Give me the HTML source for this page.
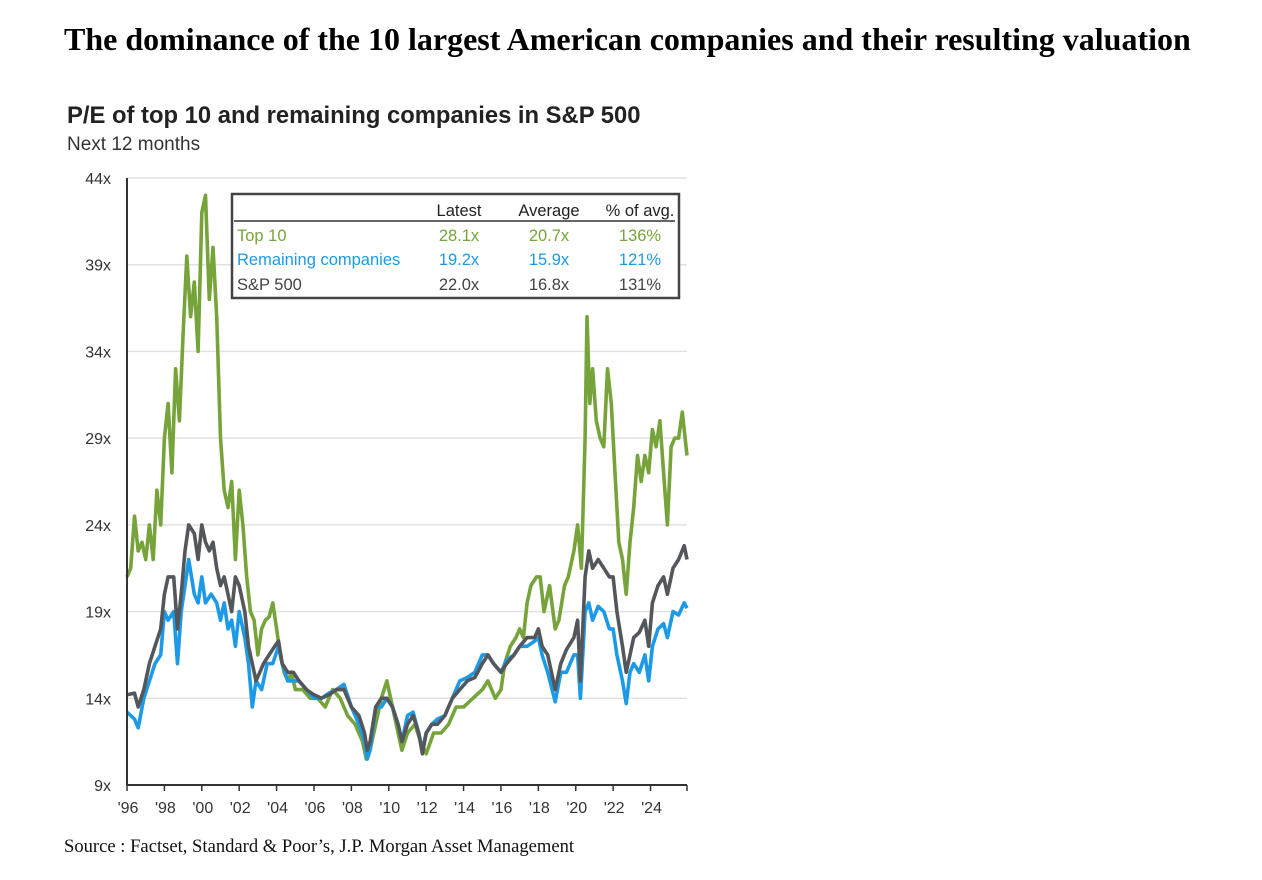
<!DOCTYPE html>
<html><head><meta charset="utf-8">
<style>
body{margin:0;background:#fff;width:1262px;height:880px;overflow:hidden;position:relative}
.t{position:absolute;white-space:nowrap}
</style></head>
<body>
<div class="t" style="left:64px;top:21px;font:bold 32px 'Liberation Serif',serif;color:#000">The dominance of the 10 largest American companies and their resulting valuation</div>
<div class="t" style="left:67px;top:102px;font:bold 23.8px 'Liberation Sans',sans-serif;color:#222">P/E of top 10 and remaining companies in S&amp;P 500</div>
<div class="t" style="left:67px;top:134px;font:19px 'Liberation Sans',sans-serif;color:#333">Next 12 months</div>
<div class="t" style="left:64px;top:836px;font:18.6px 'Liberation Serif',serif;color:#111">Source : Factset, Standard &amp; Poor’s, J.P. Morgan Asset Management</div>
<svg id="chart" width="1262" height="880" style="position:absolute;left:0;top:0"></svg>
<script>
const yTicks=[9,14,19,24,29,34,39,44];
const xTickYears=[1996,1998,2000,2002,2004,2006,2008,2010,2012,2014,2016,2018,2020,2022,2024];
const xTickLabels=["'96","'98","'00","'02","'04","'06","'08","'10","'12","'14","'16","'18","'20","'22","'24"];
const top10Years=[1996.0,1996.2,1996.4,1996.6,1996.8,1997.0,1997.2,1997.4,1997.6,1997.8,1998.0,1998.2,1998.4,1998.6,1998.8,1999.0,1999.2,1999.4,1999.6,1999.8,2000.0,2000.2,2000.4,2000.6,2000.8,2001.0,2001.2,2001.4,2001.6,2001.8,2002.0,2002.2,2002.4,2002.6,2002.8,2003.0,2003.2,2003.4,2003.6,2003.8,2004.0,2004.2,2004.4,2004.6,2004.8,2005.0,2005.4,2005.8,2006.2,2006.6,2007.0,2007.4,2007.8,2008.2,2008.6,2008.8,2009.0,2009.2,2009.6,2009.9,2010.2,2010.5,2010.7,2011.0,2011.4,2011.7,2012.0,2012.4,2012.8,2013.2,2013.6,2014.0,2014.5,2015.0,2015.3,2015.7,2016.0,2016.2,2016.5,2016.8,2017.0,2017.2,2017.4,2017.6,2017.9,2018.1,2018.3,2018.6,2018.9,2019.1,2019.4,2019.6,2019.9,2020.1,2020.3,2020.5,2020.6,2020.75,2020.9,2021.1,2021.3,2021.5,2021.7,2021.9,2022.1,2022.3,2022.5,2022.7,2022.9,2023.1,2023.3,2023.5,2023.7,2023.9,2024.1,2024.3,2024.5,2024.7,2024.9,2025.1,2025.3,2025.5,2025.7,2025.95];
const top10Values=[21,21.5,24.5,22.5,23,22,24,22,26,24,29,31,27,33,30,35,39.5,36,38,34,42,43,37,40,36,29,26,25,26.5,22,26,24,21,19,18.5,16.5,18,18.5,18.7,19.5,18,16.5,15.5,15,15.5,14.5,14.5,14,14,13.5,14.5,14,13,12.5,11.5,10.5,11,12,14,15,13.5,12,11,12,12.5,11.5,10.8,12,12,12.5,13.5,13.5,14,14.5,15,14,14.5,16,17,17.5,18,17.5,19.5,20.5,21,21,19,20.5,18,18.5,20.5,21,22.5,24,21.5,29,36,31,33,30,29,28.5,33,31,27,23,22,20,23,25,28,26.5,28,27,29.5,28.5,30,27,24,28.5,29,29,30.5,28];
const spYears=[1996.0,1996.4,1996.6,1996.9,1997.2,1997.5,1997.8,1998.0,1998.2,1998.5,1998.7,1998.9,1999.1,1999.3,1999.6,1999.8,2000.0,2000.2,2000.4,2000.6,2000.8,2001.0,2001.2,2001.4,2001.6,2001.8,2002.0,2002.3,2002.5,2002.7,2002.9,2003.1,2003.3,2003.6,2003.9,2004.1,2004.3,2004.6,2004.9,2005.2,2005.6,2006.0,2006.4,2006.8,2007.2,2007.6,2008.0,2008.4,2008.7,2008.85,2009.0,2009.3,2009.6,2009.9,2010.2,2010.5,2010.7,2011.0,2011.3,2011.6,2011.8,2012.0,2012.3,2012.6,2013.0,2013.4,2013.8,2014.2,2014.6,2015.0,2015.3,2015.6,2016.0,2016.3,2016.7,2017.0,2017.4,2017.8,2018.0,2018.2,2018.5,2018.9,2019.2,2019.5,2019.9,2020.1,2020.25,2020.5,2020.7,2020.9,2021.2,2021.5,2021.8,2022.0,2022.2,2022.5,2022.7,2022.9,2023.1,2023.4,2023.7,2023.9,2024.1,2024.4,2024.7,2024.9,2025.2,2025.5,2025.8,2025.95];
const spValues=[14.2,14.3,13.5,14.5,16,17,18,20,21,21,18,20,22.5,24,23.5,22,24,23,22.5,23,21.5,20.5,21,20,19,21,20.5,19,17,16,15,15.5,16,16.5,17,17.3,16,15.5,15.5,15,14.5,14.2,14,14.2,14.5,14.5,13.5,13,12,11,11.5,13.5,14,14,13.5,12.5,11.5,12.5,13,12,10.8,12,12.5,12.5,13,14,14.5,15,15.2,16,16.5,16,15.5,16,16.5,17,17.5,17.5,18,17,16.5,14.5,16,16.8,17.5,18.5,15,21,22.5,21.5,22,21.5,21,21,19,17,15.5,16.5,17.5,17.8,18.5,17,19.5,20.5,21,20,21.5,22,22.8,22];
const restYears=[1996.0,1996.4,1996.6,1996.9,1997.2,1997.5,1997.8,1998.0,1998.2,1998.5,1998.7,1998.9,1999.1,1999.3,1999.6,1999.8,2000.0,2000.2,2000.5,2000.8,2001.0,2001.2,2001.4,2001.6,2001.8,2002.0,2002.3,2002.5,2002.7,2002.9,2003.2,2003.5,2003.8,2004.1,2004.3,2004.6,2004.9,2005.2,2005.6,2006.0,2006.4,2006.8,2007.2,2007.6,2008.0,2008.4,2008.7,2008.85,2009.0,2009.3,2009.6,2009.9,2010.2,2010.5,2010.7,2011.0,2011.3,2011.6,2011.8,2012.0,2012.3,2012.6,2013.0,2013.4,2013.8,2014.2,2014.6,2015.0,2015.3,2015.6,2016.0,2016.3,2016.7,2017.0,2017.4,2017.8,2018.0,2018.2,2018.5,2018.9,2019.2,2019.5,2019.9,2020.1,2020.25,2020.5,2020.7,2020.9,2021.2,2021.5,2021.8,2022.0,2022.2,2022.5,2022.7,2022.9,2023.1,2023.4,2023.7,2023.9,2024.1,2024.4,2024.7,2024.9,2025.2,2025.5,2025.8,2025.95];
const restValues=[13.2,12.8,12.3,14,15,16,16.5,19,18.5,19,16,19,20.5,22,20,19.5,21,19.5,20,19.5,18.5,19.5,18,18.5,17,19,17.5,16,13.5,15,14.5,16,16,17,16,15,15,15,14.5,14,14,14.3,14.5,14.8,13.5,12.5,11.5,10.5,11,13.5,13.5,14,13.5,12.5,11.5,13,13.2,12,11,12,12.5,12.8,13,14,15,15.2,15.5,16.5,16.5,16,15.5,16.2,16.5,17,17,17.3,17.5,16.5,15.5,13.8,15.5,15.5,16.5,16.5,14,19,19.5,18.5,19.3,19,18,18,16.5,15,13.7,15.5,16,15.5,16.5,15,17,18,18.3,17.5,19,18.8,19.5,19.2];
const tableCols=["Latest","Average","% of avg."];
const tableRows=["Top 10","Remaining companies","S&P 500"];
const tableVals=[["28.1x","20.7x","136%"],["19.2x","15.9x","121%"],["22.0x","16.8x","131%"]];

const NS="http://www.w3.org/2000/svg";
const svg=document.getElementById('chart');
const X0=127,X1=687,YR0=1996,YR1=2025.95,Y0=785,Y1=178,V0=9,V1=44;
const sx=y=>X0+(y-YR0)/(YR1-YR0)*(X1-X0);
const sy=v=>Y0-(v-V0)/(V1-V0)*(Y0-Y1);
function mk(tag,attrs,parent){const e=document.createElementNS(NS,tag);for(const k in attrs)e.setAttribute(k,attrs[k]);(parent||svg).appendChild(e);return e;}
const font="'Liberation Sans',sans-serif";
yTicks.forEach(v=>{
  if(v>V0){const g=mk('line',{x1:X0,x2:X1,y1:sy(v),y2:sy(v),stroke:'#e2e2e2','stroke-width':1.5});
  
  }
  const t=mk('text',{x:111,y:sy(v)+6,'text-anchor':'end','font-family':font,'font-size':16,fill:'#333'});
  t.textContent=v+'x';
  
  
});
xTickYears.forEach((yr,i)=>{
  const tk=mk('line',{x1:sx(yr),x2:sx(yr),y1:Y0,y2:Y0+6,stroke:'#333','stroke-width':1.5});
  
  
  const t=mk('text',{x:sx(yr)+1,y:Y0+28,'text-anchor':'middle','font-family':font,'font-size':16,fill:'#333'});
  t.textContent=xTickLabels[i];
  
  
});
mk('line',{x1:X1,x2:X1,y1:Y0,y2:Y0+6,stroke:'#333','stroke-width':1.5});
function series(xs,vs,color,name){
  const d=xs.map((x,i)=>(i?'L':'M')+sx(x).toFixed(1)+','+sy(vs[i]).toFixed(1)).join('');
  const p=mk('path',{d:d,fill:'none',stroke:color,'stroke-width':3.6,'stroke-linejoin':'round'});
  
  
}
series(top10Years,top10Values,'#77a43a','top10-line');
series(restYears,restValues,'#1d9ae6','remaining-line');
series(spYears,spValues,'#53575c','sp500-line');
const ax=mk('line',{x1:X0,x2:X0,y1:Y1,y2:Y0,stroke:'#333','stroke-width':2});


const bx=mk('line',{x1:X0,x2:X1,y1:Y0,y2:Y0,stroke:'#333','stroke-width':2});


const box=mk('rect',{x:232,y:194,width:447,height:104,fill:'#fff',stroke:'#444','stroke-width':2.5});


mk('line',{x1:234,x2:675,y1:221,y2:221,stroke:'#333','stroke-width':1.5});
const colX=[459,549,640];
const rowY=[241,265,290];
const rowColors=['#77a43a','#1d9ae6','#444'];
const tf="'Liberation Sans Narrow','Liberation Sans',sans-serif";
tableCols.forEach((c,i)=>{const t=mk('text',{x:colX[i],y:216,'text-anchor':'middle','font-family':tf,'font-size':16.5,fill:'#222'});t.textContent=c;
  
  });
tableRows.forEach((r,j)=>{
  const t=mk('text',{x:237,y:rowY[j],'font-family':tf,'font-size':16.5,fill:rowColors[j]});t.textContent=r;
  
  
  tableVals[j].forEach((v,i)=>{const c=mk('text',{x:colX[i],y:rowY[j],'text-anchor':'middle','font-family':tf,'font-size':16.5,fill:rowColors[j]});c.textContent=v;
    
    });
});
</script>
</body></html>
